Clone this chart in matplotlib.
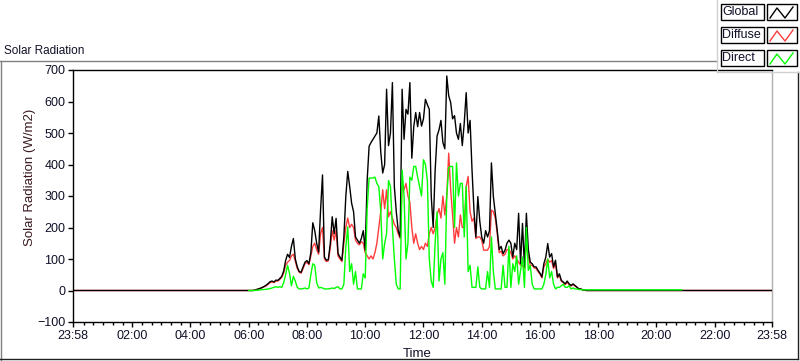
import numpy as np
import matplotlib
matplotlib.use("Agg")
import matplotlib.pyplot as plt
from matplotlib.lines import Line2D
from matplotlib.patches import Rectangle

plt.rcParams['font.family'] = ['Liberation Sans', 'DejaVu Sans']

# Samples every 4 minutes from 06:00 to 18:00 (W/m2)
day_start_h = 6.0
step_min = 4

global_vals = [
    0, 0, 0, 1, 3, 5, 7, 10, 13, 17,
    22, 28, 30, 27, 33, 32, 38, 45, 62, 95,
    115, 105, 140, 165, 100, 75, 60, 58, 75, 90,
    95, 85, 120, 215, 190, 150, 122, 255, 367, 106,
    96, 98, 149, 234, 180, 229, 117, 106, 96, 170,
    298, 378, 330, 277, 250, 170, 160, 150, 165, 190,
    128, 350, 458, 470, 480, 490, 500, 554, 440, 373,
    400, 639, 460, 500, 660, 330, 250, 190, 170, 639,
    480, 575, 560, 660, 420, 520, 565, 520, 565, 522,
    545, 607, 590, 575, 300, 200, 380, 490, 510, 540,
    470, 450, 681, 618, 597, 545, 555, 500, 480, 530,
    460, 532, 628, 500, 540, 383, 255, 170, 298, 220,
    170, 150, 190, 170, 190, 405, 298, 245, 190, 130,
    140, 117, 128, 150, 160, 150, 106, 150, 130, 245,
    85, 213, 75, 245, 130, 90, 85, 75, 75, 64,
    55, 43, 85, 106, 149, 106, 117, 75, 96, 43,
    53, 32, 27, 21, 30, 21, 16, 21, 16, 11,
    5, 5, 2, 1, 0, 0, 0, 0, 0, 0, 0,
]

diffuse_vals = [
    0, 0, 0, 1, 3, 5, 7, 9, 12, 15,
    20, 25, 27, 25, 30, 30, 35, 42, 55, 80,
    90, 95, 110, 115, 92, 70, 58, 55, 70, 85,
    90, 82, 110, 140, 150, 130, 115, 180, 200, 100,
    92, 94, 135, 190, 160, 190, 110, 100, 92, 150,
    200, 230, 200, 210, 200, 160, 150, 145, 155, 150,
    120, 110, 100, 110, 100, 120, 150, 200, 250, 320,
    260, 320, 234, 250, 230, 210, 200, 180, 165, 330,
    320, 340, 300, 280, 200, 150, 180, 150, 130, 140,
    130, 150, 140, 180, 200, 180, 200, 240, 260, 230,
    300, 240, 300, 436, 320, 240, 150, 200, 170, 240,
    200, 200, 330, 362, 250, 220, 230, 165, 170, 170,
    160, 128, 128, 128, 140, 255, 250, 230, 180, 120,
    125, 110, 115, 130, 130, 120, 100, 110, 100, 90,
    80, 80, 70, 150, 110, 80, 80, 72, 70, 60,
    52, 40, 75, 85, 100, 90, 95, 70, 85, 40,
    48, 30, 25, 19, 26, 19, 14, 19, 14, 10,
    5, 5, 2, 1, 0, 0, 0, 0, 0, 0, 0,
]

direct_vals = [
    0, 0, 0, 0, 1, 1, 2, 3, 3, 4,
    5, 6, 8, 10, 12, 10, 12, 10, 25, 50,
    80, 55, 15, 45, 30, 10, 5, 5, 6, 8,
    5, 8, 50, 85, 80, 25, 8, 10, 8, 5,
    5, 5, 6, 8, 6, 10, 12, 5, 5, 20,
    138, 202, 60, 85, 20, 60, 5, 5, 5, 53,
    40, 260, 357, 357, 357, 360, 340, 330, 250, 100,
    150, 180, 349, 330, 200, 100, 20, 5, 5, 383,
    300, 100, 150, 360, 350, 394, 394, 360, 330, 300,
    415, 400, 350, 100, 30, 10, 150, 250, 30, 100,
    120, 20, 300, 390, 394, 394, 200, 405, 300, 340,
    340, 170, 330, 60, 80, 10, 10, 10, 75, 10,
    5, 5, 5, 60, 10, 170, 60, 5, 5, 5,
    5, 80, 10, 10, 140, 10, 85, 60, 110, 20,
    64, 106, 10, 200, 64, 80, 20, 5, 5, 5,
    5, 5, 20, 50, 100, 40, 60, 20, 5, 10,
    10, 15, 20, 10, 10, 15, 5, 8, 5, 5,
    3, 3, 2, 2, 2, 2, 2, 2, 2, 2, 2,
]

# direct sensor keeps a small offset in the evening
direct_tail_t = [18.5, 19.0, 19.5, 20.0, 20.5, 20.87]
direct_tail_v = [2, 2, 2, 2, 2, 2]

t_start = -2 / 60          # 23:58 previous day
t_end = 23 + 58 / 60       # 23:58

x_ticks = [t_start, 2, 4, 6, 8, 10, 12, 14, 16, 18, 20, 22, t_end]
x_ticklabels = ['23:58', '02:00', '04:00', '06:00', '08:00', '10:00', '12:00',
                '14:00', '16:00', '18:00', '20:00', '22:00', '23:58']
y_ticks = [-100, 0, 100, 200, 300, 400, 500, 600, 700]

series_names = ['Global', 'Diffuse', 'Direct']
series_colors = ['#000000', '#ff3c3c', '#00ff00']

t_day = day_start_h + np.arange(len(global_vals)) * step_min / 60
t_full = np.concatenate([[t_start], t_day, [t_end]])
g_full = np.concatenate([[0], global_vals, [0]])
d_full = np.concatenate([[0], diffuse_vals, [0]])
t_dir = np.concatenate([t_day, direct_tail_t])
b_dir = np.concatenate([direct_vals, direct_tail_v])

W, H = 800, 361
fig = plt.figure(figsize=(W / 100, H / 100), dpi=100)
fig.patch.set_facecolor('white')
txt_col = '#101028'


def fx(x):
    return x / W


def fy(y):
    return 1 - y / H


ax = fig.add_axes([fx(73), fy(322), fx(772) - fx(73), fy(70) - fy(322)])
ax.plot(t_full, d_full, color=series_colors[1], lw=1, zorder=2)
ax.plot(t_full, g_full, color=series_colors[0], lw=1, zorder=3)
ax.plot(t_dir, b_dir, color=series_colors[2], lw=1, zorder=4)

ax.set_xlim(t_start, t_end)
ax.set_ylim(-100, 700)
ax.set_xticks(x_ticks)
ax.set_xticklabels(x_ticklabels)
minor = [m / 3 for m in range(1, 72) if m % 6 != 0]
ax.set_xticks(minor, minor=True)
ax.set_yticks(y_ticks)
ax.tick_params(axis='both', which='major', direction='out', length=3.5, width=1,
               labelsize=9, colors='black', labelcolor=txt_col, pad=2)
ax.tick_params(axis='x', which='minor', direction='out', length=2, width=1)
for s in ['left', 'bottom', 'top']:
    ax.spines[s].set_color('black')
    ax.spines[s].set_linewidth(1)
ax.spines['right'].set_color('#b0b0b0')
ax.spines['right'].set_linewidth(1)

fig.text(fx(30), fy(177), 'Solar Radiation (W/m2)', rotation=90, ha='center',
         va='center', fontsize=9.5, color='#3a1a20')
fig.text(fx(403), fy(354), 'Time', ha='left', va='center', fontsize=9.5,
         color=txt_col)
fig.text(fx(4), fy(51), 'Solar Radiation', ha='left', va='center', fontsize=8.5,
         color=txt_col)

# outer frame
fig.add_artist(Line2D([fx(0), fx(717)], [fy(61), fy(61)], color='#808080', lw=1))
fig.add_artist(Line2D([fx(0.5), fx(0.5)], [fy(61), fy(361)], color='#808080', lw=1))
fig.add_artist(Line2D([fx(0), fx(798)], [fy(359), fy(359)], color='#202020', lw=1))
fig.add_artist(Line2D([fx(798), fx(798)], [fy(72), fy(359)], color='#202020', lw=1))

# legend panel
fig.add_artist(Line2D([fx(717), fx(717)], [fy(0), fy(72)], color='#d0d0d0', lw=1))
fig.add_artist(Line2D([fx(717), fx(800)], [fy(72), fy(72)], color='#d0d0d0', lw=1))
for k, (name, col) in enumerate(zip(series_names, series_colors)):
    y0 = 4 + 23 * k
    fig.add_artist(Rectangle((fx(720.5), fy(y0 + 16)), fx(43), fy(0) - fy(16),
                             facecolor='white', edgecolor='black', lw=1))
    fig.text(fx(722), fy(y0 + 8), name, ha='left', va='center', fontsize=9,
             color=txt_col)
    fig.add_artist(Rectangle((fx(767), fy(y0 + 16)), fx(30), fy(0) - fy(16),
                             facecolor='white', edgecolor='black', lw=1))
    fig.add_artist(Line2D([fx(770), fx(777), fx(785), fx(793)],
                          [fy(y0 + 14), fy(y0 + 4), fy(y0 + 14), fy(y0 + 3)],
                          color=col, lw=1))

fig.savefig('out.png', dpi=100)
